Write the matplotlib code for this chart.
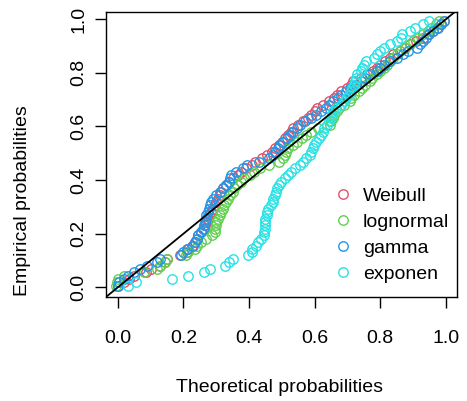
import matplotlib
matplotlib.use("Agg")
import matplotlib.pyplot as plt

plt.rcParams['font.family'] = ['Liberation Sans', 'DejaVu Sans']

# empirical probabilities (shared by all fits)
emp_p = [0.006, 0.019, 0.031, 0.044, 0.056, 0.069, 0.081, 0.094, 0.106, 0.119,
         0.131, 0.144, 0.156, 0.169, 0.181, 0.194, 0.206, 0.219, 0.231, 0.244,
         0.256, 0.269, 0.281, 0.294, 0.306, 0.319, 0.331, 0.344, 0.356, 0.369,
         0.381, 0.394, 0.406, 0.419, 0.431, 0.444, 0.456, 0.469, 0.481, 0.494,
         0.506, 0.519, 0.531, 0.544, 0.556, 0.569, 0.581, 0.594, 0.606, 0.619,
         0.631, 0.644, 0.656, 0.669, 0.681, 0.694, 0.706, 0.719, 0.731, 0.744,
         0.756, 0.769, 0.781, 0.794, 0.806, 0.819, 0.831, 0.844, 0.856, 0.869,
         0.881, 0.894, 0.906, 0.919, 0.931, 0.944, 0.956, 0.969, 0.981, 0.994]

# theoretical probabilities per fitted distribution
weibull = [0.0, 0.02, 0.035, 0.05, 0.087, 0.1, 0.13, 0.145, 0.15, 0.19,
           0.21, 0.215, 0.225, 0.235, 0.24, 0.245, 0.255, 0.262, 0.265, 0.27,
           0.275, 0.278, 0.285, 0.29, 0.296, 0.3, 0.305, 0.31, 0.315, 0.322,
           0.33, 0.338, 0.35, 0.365, 0.375, 0.39, 0.41, 0.418, 0.44, 0.455,
           0.47, 0.48, 0.49, 0.5, 0.51, 0.52, 0.528, 0.534, 0.55, 0.565,
           0.58, 0.59, 0.6, 0.606, 0.625, 0.645, 0.66, 0.667, 0.68, 0.7,
           0.71, 0.718, 0.74, 0.76, 0.779, 0.79, 0.8, 0.815, 0.829, 0.84,
           0.86, 0.875, 0.89, 0.91, 0.93, 0.945, 0.96, 0.972, 0.985, 0.995]

lognormal = [-0.005, -0.003, 0.0, 0.02, 0.08, 0.118, 0.13, 0.143, 0.15, 0.209,
             0.214, 0.235, 0.24, 0.255, 0.27, 0.286, 0.296, 0.296, 0.298, 0.3,
             0.305, 0.31, 0.315, 0.321, 0.325, 0.33, 0.336, 0.342, 0.35, 0.355,
             0.362, 0.375, 0.385, 0.402, 0.415, 0.433, 0.46, 0.49, 0.504, 0.51,
             0.514, 0.52, 0.535, 0.545, 0.56, 0.575, 0.59, 0.61, 0.646, 0.65,
             0.655, 0.66, 0.668, 0.675, 0.69, 0.707, 0.71, 0.72, 0.735, 0.745,
             0.755, 0.768, 0.775, 0.79, 0.8, 0.81, 0.82, 0.83, 0.84, 0.85,
             0.86, 0.875, 0.89, 0.9, 0.915, 0.93, 0.945, 0.955, 0.97, 0.98]

gamma = [0.0, 0.005, 0.02, 0.031, 0.05, 0.067, 0.09, 0.118, 0.128, 0.194,
         0.2, 0.21, 0.228, 0.235, 0.24, 0.243, 0.255, 0.26, 0.262, 0.265,
         0.268, 0.27, 0.275, 0.278, 0.28, 0.285, 0.29, 0.3, 0.31, 0.321,
         0.33, 0.338, 0.341, 0.345, 0.36, 0.382, 0.393, 0.43, 0.46, 0.474,
         0.48, 0.487, 0.494, 0.505, 0.515, 0.524, 0.535, 0.545, 0.555, 0.57,
         0.59, 0.605, 0.62, 0.636, 0.645, 0.655, 0.67, 0.68, 0.695, 0.71,
         0.725, 0.74, 0.755, 0.77, 0.79, 0.8, 0.81, 0.83, 0.85, 0.869,
         0.885, 0.911, 0.92, 0.93, 0.94, 0.95, 0.962, 0.975, 0.985, 0.993]

exponen = [0.03, 0.055, 0.165, 0.215, 0.262, 0.28, 0.327, 0.34, 0.35, 0.398,
           0.408, 0.41, 0.42, 0.427, 0.438, 0.447, 0.447, 0.448, 0.448, 0.449,
           0.45, 0.455, 0.456, 0.458, 0.466, 0.472, 0.474, 0.478, 0.482, 0.484,
           0.49, 0.496, 0.51, 0.52, 0.527, 0.54, 0.555, 0.565, 0.575, 0.585,
           0.59, 0.594, 0.597, 0.605, 0.612, 0.62, 0.626, 0.63, 0.638, 0.645,
           0.65, 0.653, 0.656, 0.665, 0.68, 0.69, 0.697, 0.705, 0.71, 0.715,
           0.72, 0.724, 0.727, 0.73, 0.74, 0.745, 0.75, 0.757, 0.78, 0.79,
           0.8, 0.81, 0.83, 0.85, 0.862, 0.866, 0.89, 0.905, 0.93, 0.95]

labels = ['Weibull', 'lognormal', 'gamma', 'exponen']
colors = ['#DF536B', '#61D04F', '#2297E6', '#28E2E5']
ticks = [0.0, 0.2, 0.4, 0.6, 0.8, 1.0]
tick_labels = ['0.0', '0.2', '0.4', '0.6', '0.8', '1.0']

fig = plt.figure(figsize=(4.67, 4.01), dpi=100)
ax = fig.add_axes([0.2263, 0.2594, 0.7523, 0.7106])

for xs, lab, col in zip([weibull, lognormal, gamma, exponen], labels, colors):
    ax.plot(xs, emp_p, ls='none', marker='o', mfc='none', mec=col,
            ms=6.8, mew=1.0, label=lab)

ax.axline((0, 0), slope=1, color='black', lw=1.3)

ax.set_xlim(-0.037, 1.034)
ax.set_ylim(-0.036, 1.027)
ax.set_xticks(ticks)
ax.set_xticklabels(tick_labels)
ax.set_yticks(ticks)
ax.set_yticklabels(tick_labels, rotation=90, va='center')
ax.tick_params(length=8, width=1, labelsize=14)
ax.tick_params(axis='x', pad=16)
ax.tick_params(axis='y', pad=5)
for s in ax.spines.values():
    s.set_linewidth(1.0)

fig.text(0.5987, 1 - 387 / 401, 'Theoretical probabilities', ha='center', va='center', fontsize=14)
fig.text(23 / 467, 0.5, 'Empirical probabilities', ha='center', va='center',
         rotation=90, fontsize=14)

ax.legend(loc='upper left', bbox_to_anchor=(333.3 / 467, 1 - 187.5 / 401),
          bbox_transform=fig.transFigure, frameon=False, fontsize=14,
          handlelength=1.0, handletextpad=0.53, labelspacing=0.43, borderpad=0,
          borderaxespad=0)

plt.savefig('out.png', dpi=100)
